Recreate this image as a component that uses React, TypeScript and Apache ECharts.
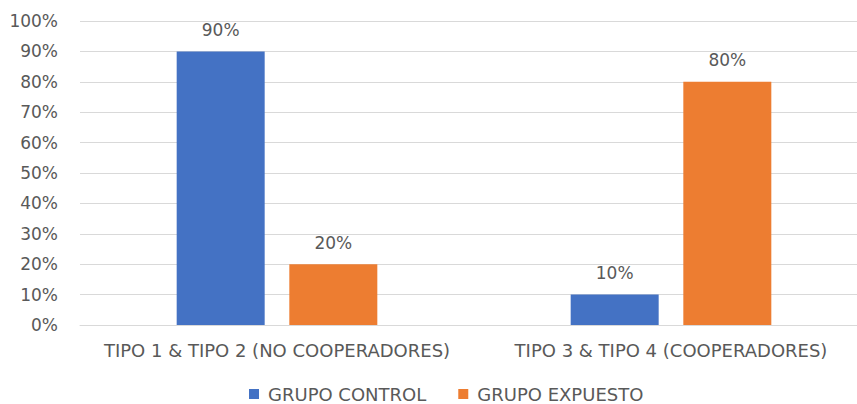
import React, { useEffect, useRef } from "react";
import * as echarts from "echarts";

const categories = ["TIPO 1 & TIPO 2 (NO COOPERADORES)", "TIPO 3 & TIPO 4 (COOPERADORES)"];
const seriesNames = ["GRUPO CONTROL", "GRUPO EXPUESTO"];
const grupoControl = [90, 10];
const grupoExpuesto = [20, 80];
const colors = ["#4472C4", "#ED7D31"];

const FONT = "DejaVu Sans";
const TEXT = "#595959";

export default function App() {
  const ref = useRef<HTMLDivElement>(null);
  useEffect(() => {
    document.body.style.margin = "0";
    const chart = echarts.init(ref.current!, undefined, { renderer: "svg" });
    const label = {
      show: true,
      position: "top" as const,
      distance: 13,
      color: TEXT,
      fontFamily: FONT,
      fontSize: 17,
      formatter: (p: any) => p.value + "%",
    };
    chart.setOption({
      animation: false,
      backgroundColor: "#ffffff",
      textStyle: { fontFamily: FONT },
      grid: { left: 80, right: 2, top: 21, bottom: 79, containLabel: false },
      legend: {
        data: seriesNames,
        left: 249,
        top: 385,
        padding: 0,
        itemWidth: 10,
        itemHeight: 10,
        itemGap: 32,
        icon: "rect",
        textStyle: { color: TEXT, fontFamily: FONT, fontSize: 18, lineHeight: 16, padding: [0, 0, 0, 4] },
      },
      xAxis: {
        type: "category",
        data: categories,
        axisLine: { show: true, lineStyle: { color: "#d9d9d9", width: 1 } },
        axisTick: { show: false },
        axisLabel: { color: TEXT, fontFamily: FONT, fontSize: 18, margin: 16, interval: 0 },
      },
      yAxis: {
        type: "value",
        min: 0,
        max: 100,
        interval: 10,
        axisLine: { show: false },
        axisTick: { show: false },
        splitLine: { lineStyle: { color: "#d9d9d9", width: 1 } },
        axisLabel: {
          color: TEXT,
          fontFamily: FONT,
          fontSize: 17,
          margin: 22,
          formatter: (v: number) => v + "%",
        },
      },
      series: [
        {
          name: seriesNames[0],
          type: "bar",
          data: grupoControl,
          barWidth: 88,
          barGap: "28%",
          itemStyle: { color: colors[0] },
          label,
        },
        {
          name: seriesNames[1],
          type: "bar",
          data: grupoExpuesto,
          barWidth: 88,
          barGap: "28%",
          itemStyle: { color: colors[1] },
          label,
        },
      ],
    });
    return () => chart.dispose();
  }, []);
  return (
    <div style={{ position: "absolute", left: 0, top: 0, width: 857, height: 404, overflow: "hidden", background: "#fff" }}>
      <div ref={ref} style={{ width: 870, height: 404 }} />
    </div>
  );
}
